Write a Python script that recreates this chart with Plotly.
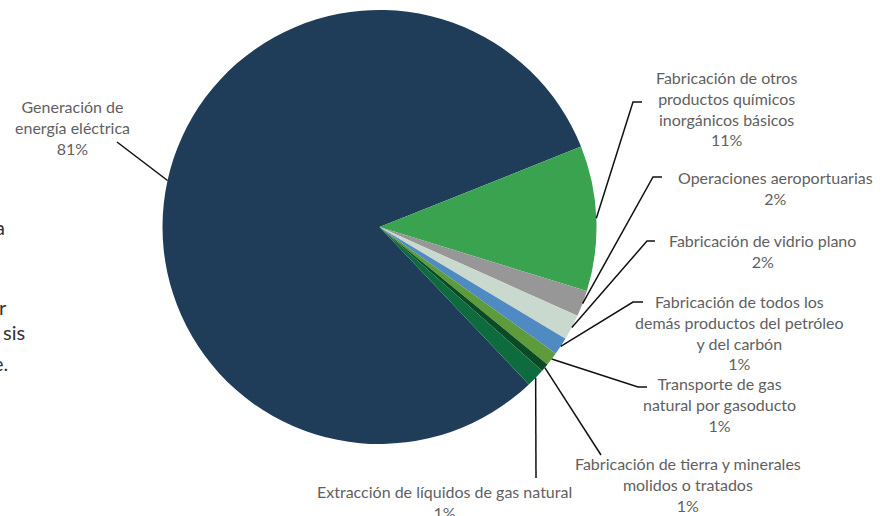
import math
import plotly.graph_objects as go

# ---- data ----
categories = [
    "Generación de<br>energía eléctrica",
    "Fabricación de otros<br>productos químicos<br>inorgánicos básicos",
    "Operaciones aeroportuarias",
    "Fabricación de vidrio plano",
    "Fabricación de todos los<br>demás productos del petróleo<br>y del carbón",
    "Transporte de gas<br>natural por gasoducto",
    "Fabricación de tierra y minerales<br>molidos o tratados",
    "Extracción de líquidos de gas natural",
]
values = [81.0, 10.8, 1.95, 1.9, 1.3, 1.0, 0.6, 1.4]
colors = ["#1f3c58", "#3aa350", "#979797", "#c9d9cd", "#4f8bc2", "#5e9b3b", "#0a4a25", "#0d6b3e"]

# ---- layout constants ----
W, H = 889, 516
CX, CY, R = 379.5, 227.0, 217.0
ROTATION = 136.5

# label block centre, elbow point, line end (None elbow = straight line)
label_pos = [(72, 127), (726, 108), (775, 188), (762, 251), (739, 332), (719, 404), (688, 484), (444, 502)]
elbows = [None, (633, 102), (653, 177), (647, 241), (633, 302), (638, 387), None, None]
line_ends = [(117, 142), (642, 102), (662, 177), (655, 241), (643, 302), (647, 387), (601, 455), (536, 478)]


def px(x):
    return x / W


def py(y):
    return 1 - y / H


fig = go.Figure(go.Pie(
    labels=[c.replace("<br>", " ") for c in categories],
    values=values,
    marker=dict(colors=colors, line=dict(width=0)),
    sort=False,
    direction="clockwise",
    rotation=ROTATION,
    textinfo="none",
    hoverinfo="label+percent",
    domain=dict(x=[px(CX - R), px(CX + R)], y=[py(CY + R), py(CY - R)]),
    showlegend=False,
))

total = sum(values)
cum = 0.0
shapes = []
annotations = []
for i, v in enumerate(values):
    mid = ROTATION + (cum + v / 2) / total * 360
    cum += v
    a = math.radians(mid)
    sx, sy = CX + R * math.sin(a), CY - R * math.cos(a)
    pts = [(sx, sy)]
    if elbows[i] is not None:
        pts.append(elbows[i])
    pts.append(line_ends[i])
    path = "M " + " L ".join(f"{px(x)},{py(y)}" for x, y in pts)
    shapes.append(dict(type="path", path=path, xref="paper", yref="paper",
                       line=dict(color="#111111", width=1.5)))
    pct = round(v / total * 100)
    lx, ly = label_pos[i]
    annotations.append(dict(
        text=f"{categories[i]}<br>{pct}%", x=px(lx), y=py(ly), xref="paper", yref="paper",
        xanchor="center", yanchor="middle", showarrow=False, align="center",
        font=dict(family="Lato", size=16, color="#5f5f5f"),
    ))

# fragments of page text visible at the left edge
frag_text = ["a", "r", "sis", "e."]
frag_pos = [(7, 227), (9, 307), (27, 332), (10, 363)]
for t, (fx, fy) in zip(frag_text, frag_pos):
    annotations.append(dict(text=t, x=px(fx), y=py(fy), xref="paper", yref="paper",
                            xanchor="right", yanchor="middle", showarrow=False,
                            font=dict(family="Lato", size=20, color="#333333")))

fig.update_layout(
    width=W, height=H,
    margin=dict(l=0, r=0, t=0, b=0),
    paper_bgcolor="white", plot_bgcolor="white",
    shapes=shapes, annotations=annotations,
)
fig.write_html("out.html", config={"displayModeBar": False},
               post_script="document.body.style.margin='0';")
